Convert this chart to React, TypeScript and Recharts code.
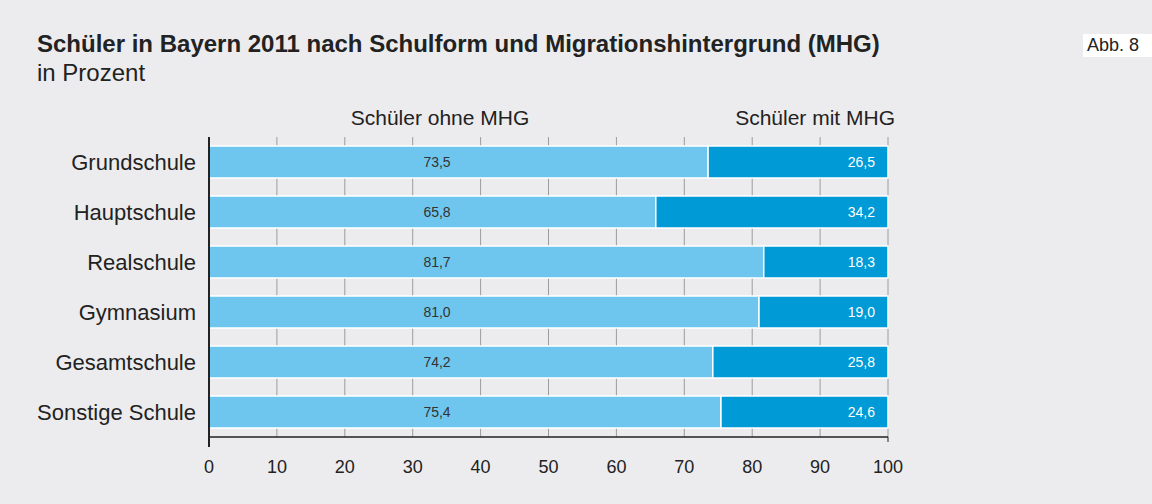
import React from 'react';
import { Bar, BarChart, CartesianGrid, LabelList, XAxis, YAxis } from 'recharts';

const schulformen = ['Grundschule', 'Hauptschule', 'Realschule', 'Gymnasium', 'Gesamtschule', 'Sonstige Schule'];
const ohneMHG = [73.5, 65.8, 81.7, 81.0, 74.2, 75.4];
const mitMHG = [26.5, 34.2, 18.3, 19.0, 25.8, 24.6];
const xTicks = [0, 10, 20, 30, 40, 50, 60, 70, 80, 90, 100];

const data = schulformen.map((name, i) => ({ name, ohne: ohneMHG[i], mit: mitMHG[i] }));

const font = '"Liberation Sans", Arial, Helvetica, sans-serif';
const fmt = (v: number) => v.toFixed(1).replace('.', ',');

const XTick = (props: any) => {
  const { x, y, payload } = props;
  return (
    <g>
      {payload.value === 0 && <line x1={x} x2={x} y1={y} y2={y + 10} stroke="#222" strokeWidth={2} />}
      {payload.value === 100 && <line x1={x} x2={x} y1={y} y2={y + 5} stroke="#222" strokeWidth={1} />}
      <text x={x} y={y + 36} textAnchor="middle" fill="#222" fontSize={18} fontFamily={font}>
        {payload.value}
      </text>
    </g>
  );
};

const YTick = (props: any) => {
  const { y, payload } = props;
  return (
    <text x={196} y={y} dy="0.35em" textAnchor="end" fill="#222" fontSize={22} fontFamily={font}>
      {payload.value}
    </text>
  );
};

const OhneLabel = (props: any) => {
  const { x, y, height, value } = props;
  return (
    <text x={x + 228} y={y + height / 2} dy="0.35em" textAnchor="middle" fill="#333" fontSize={14} fontFamily={font}>
      {fmt(value)}
    </text>
  );
};

const MitLabel = (props: any) => {
  const { x, y, width, height, value } = props;
  return (
    <text x={x + width - 13} y={y + height / 2} dy="0.35em" textAnchor="end" fill="#fff" fontSize={14} fontFamily={font}>
      {fmt(value)}
    </text>
  );
};

export default function App() {
  return (
    <div style={{ position: 'absolute', left: 0, top: 0, width: 1152, height: 504, background: '#ECECEE', fontFamily: font, color: '#222' }}>
      <div style={{ position: 'absolute', left: 37, top: 30, fontSize: 24, fontWeight: 'bold', whiteSpace: 'nowrap' }}>
        Schüler in Bayern 2011 nach Schulform und Migrationshintergrund (MHG)
      </div>
      <div style={{ position: 'absolute', left: 37, top: 59, fontSize: 24, whiteSpace: 'nowrap' }}>in Prozent</div>
      <div style={{ position: 'absolute', left: 1083, top: 34, width: 69, height: 23, background: '#fff', fontSize: 18, lineHeight: '23px', paddingLeft: 4, boxSizing: 'border-box' }}>
        Abb. 8
      </div>
      <div style={{ position: 'absolute', left: 340, width: 200, top: 106, fontSize: 21, textAlign: 'center', whiteSpace: 'nowrap' }}>
        Schüler ohne MHG
      </div>
      <div style={{ position: 'absolute', left: 695, width: 200, top: 106, fontSize: 21, textAlign: 'right', whiteSpace: 'nowrap' }}>
        Schüler mit MHG
      </div>
      <div style={{ position: 'absolute', left: 0, top: 0 }}>
        <BarChart
          width={1152}
          height={504}
          data={data}
          layout="vertical"
          margin={{ top: 137, right: 264, bottom: 37, left: 0 }}
          barCategoryGap={9}
        >
          <CartesianGrid horizontal={false} stroke="#9c9c9c" strokeWidth={1} />
          <XAxis
            type="number"
            domain={[0, 100]}
            ticks={xTicks}
            height={30}
            tickLine={false}
            tickSize={0}
            tickMargin={0}
            axisLine={{ stroke: '#222', strokeWidth: 1.5 }}
            tick={<XTick />}
            interval={0}
          />
          <YAxis
            type="category"
            dataKey="name"
            width={209}
            tickLine={false}
            axisLine={{ stroke: '#222', strokeWidth: 2 }}
            tick={<YTick />}
            interval={0}
          />
          <Bar dataKey="ohne" stackId="a" fill="#6EC6EE" stroke="#fff" strokeWidth={1.5} isAnimationActive={false}>
            <LabelList dataKey="ohne" content={<OhneLabel />} />
          </Bar>
          <Bar dataKey="mit" stackId="a" fill="#009AD6" stroke="#fff" strokeWidth={1.5} isAnimationActive={false}>
            <LabelList dataKey="mit" content={<MitLabel />} />
          </Bar>
        </BarChart>
      </div>
    </div>
  );
}
